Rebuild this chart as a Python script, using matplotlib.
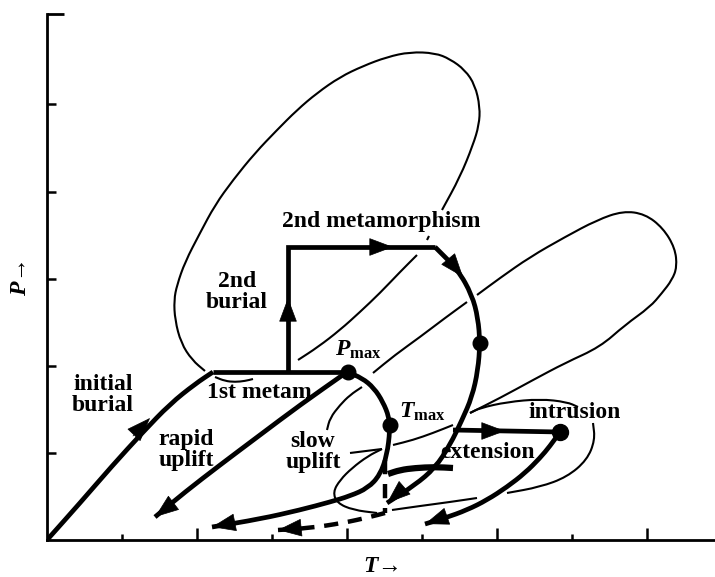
import numpy as np
import matplotlib
matplotlib.use("Agg")
import matplotlib.pyplot as plt
from matplotlib.path import Path
from matplotlib.patches import PathPatch

plt.rcParams['font.family'] = ['Liberation Serif', 'DejaVu Serif']
plt.rcParams['mathtext.fontset'] = 'custom'
plt.rcParams['mathtext.rm'] = 'Liberation Serif:bold'
plt.rcParams['mathtext.it'] = 'Liberation Serif:italic:bold'

# ---------------------------------------------------------------------------
# Schematic P-T paths, arbitrary units (T along x, P along y)
# ---------------------------------------------------------------------------
burial_path = [(0, 0), (33, 37), (65, 74), (96, 108), (123, 136), (148, 156),
               (166, 168)]
first_metam_path = [(166, 168), (300, 168)]
second_burial_path = [(241, 168), (241, 293), (388, 293)]
second_metam_path = [(388, 293), (411, 270), (425, 245), (431, 222), (433, 197),
                     (431, 170), (425, 143), (415, 120), (403, 95), (388, 72),
                     (368, 55), (340, 37)]
rapid_uplift_path = [(300, 168), (253, 135), (213, 105), (173, 75), (138, 48), (108, 23)]
slow_uplift_path = [(300, 168), (315, 162), (327, 152), (336, 138), (342, 123),
                    (343, 110), (340, 85), (333, 65), (321, 52), (303, 44),
                    (283, 38), (253, 30), (213, 21), (165, 13)]
dashed_drop = [(338, 80), (338, 27)]
dashed_path = [(338, 27), (323, 23), (296, 17), (263, 12), (231, 10)]
extension_path = [(406, 110), (513, 108)]
intrusion_path = [(513, 108), (503, 94), (493, 82), (478, 67), (460, 53),
                  (440, 40), (420, 30), (398, 22), (378, 16)]
extension_stroke = [(341, 66), (353, 70), (368, 72), (388, 73), (406, 72)]

# thin relaxation envelopes
envelope_1 = [(158, 169), (145, 180), (134, 197), (128, 220), (127, 240), (130, 255),
              (138, 278), (153, 307), (168, 335), (186, 360), (208, 387), (230, 410),
              (250, 430), (270, 447), (293, 463), (316, 474), (340, 483), (363, 488),
              (388, 487), (403, 481), (418, 470), (428, 455), (433, 433), (432, 415),
              (426, 395), (413, 363), (395, 330)]
envelope_1_tail = [(380, 300), (382, 304)]
envelope_1_inner = [(370, 285), (353, 268), (333, 247), (313, 228), (293, 210),
                    (271, 193), (251, 180)]
envelope_2a = [(280, 110), (283, 122), (293, 135), (303, 145), (315, 153)]
envelope_2b = [(326, 167), (348, 185), (373, 203), (398, 222), (420, 238)]
envelope_2c = [(430, 245), (453, 262), (483, 283), (518, 303), (550, 320), (576, 329),
               (598, 326), (616, 312), (628, 292), (630, 273), (625, 260), (615, 247),
               (603, 233), (578, 215), (553, 193), (518, 177), (486, 160), (453, 142),
               (423, 127)]
envelope_3a = [(303, 87), (335, 91)]
envelope_3b = [(335, 91), (321, 84), (305, 72), (293, 60), (286, 48),
               (290, 37), (306, 30), (330, 27)]
envelope_3c = [(345, 30), (373, 34), (403, 38), (430, 42)]
envelope_3d = [(460, 47), (493, 53), (520, 63), (540, 80), (548, 100), (546, 117)]
envelope_3top = [(346, 95), (366, 100), (386, 107), (406, 115)]
intrusion_arc = [(423, 127), (433, 132), (460, 138), (493, 141), (520, 138), (531, 133)]
first_metam_arc = [(168, 163), (178, 159), (188, 158), (198, 159), (206, 161)]

# key points
dots_T = [301, 343, 433]
dots_P = [168, 115, 197]
intrusion_dot = (513, 108)

# arrowheads: (tip, point behind tip)
arrow_heads = [((103, 122), (86, 104)),
               ((108, 23), (125, 36)),
               ((241, 242), (241, 222)),
               ((346, 293), (325, 293)),
               ((416, 263), (402, 280)),
               ((340, 37), (355, 50)),
               ((165, 13), (185, 17)),
               ((231, 10), (251, 12)),
               ((458, 109), (438, 109)),
               ((378, 16), (398, 23))]

# labels: (text, T, P)
labels = [("initial\nburial", 56, 145),
          ("2nd\nburial", 190, 248),
          ("1st metam", 212, 147),
          ("rapid\nuplift", 139, 90),
          ("slow\nuplift", 266, 88),
          ("2nd metamorphism", 334, 318),
          ("intrusion", 528, 127),
          ("extension", 441, 88)]

x_major = [150, 300, 450, 600]
x_minor = [75, 225, 375, 525]
y_ticks = [87, 174, 261, 348, 436]


def smooth_path(pts, smooth=True):
    pts = np.asarray(pts, dtype=float)
    if len(pts) < 3 or not smooth:
        return Path(pts)
    mids = (pts[:-1] + pts[1:]) / 2
    verts = [pts[0], mids[0]]
    codes = [Path.MOVETO, Path.LINETO]
    for i in range(1, len(pts) - 1):
        verts += [pts[i], mids[i]]
        codes += [Path.CURVE3, Path.CURVE3]
    verts.append(pts[-1])
    codes.append(Path.LINETO)
    return Path(verts, codes)


def draw(ax, pts, lw, smooth=True, **kw):
    patch = PathPatch(smooth_path(pts, smooth), fill=False, edgecolor="black", lw=lw,
                      joinstyle="miter", capstyle="butt", **kw)
    ax.add_patch(patch)


fig = plt.figure(figsize=(7.15, 5.77), dpi=100)
ax = fig.add_axes([47 / 715, 37 / 577, 668 / 715, 526 / 577])
ax.set_xlim(0, 668)
ax.set_ylim(0, 526)

for s in ["top", "right"]:
    ax.spines[s].set_visible(False)
for s in ["left", "bottom"]:
    ax.spines[s].set_linewidth(2.0)

ax.set_xticks(x_major)
ax.set_xticks(x_minor, minor=True)
ax.set_yticks(y_ticks)
ax.tick_params(axis="x", which="major", direction="in", length=9, width=1.8, labelbottom=False)
ax.tick_params(axis="x", which="minor", direction="in", length=4.5, width=1.8)
ax.tick_params(axis="y", direction="in", length=6.5, width=1.8, labelleft=False)
ax.plot([0, 17], [526, 526], color="black", lw=2.0, clip_on=False, solid_capstyle="butt")

# thin envelopes
for seg in [envelope_1, envelope_1_tail, envelope_1_inner, envelope_2a, envelope_2b,
            envelope_2c, envelope_3a, envelope_3b, envelope_3c, envelope_3d,
            envelope_3top, intrusion_arc, first_metam_arc]:
    draw(ax, seg, 1.5)

# thick paths
for seg in [burial_path, first_metam_path, second_metam_path,
            rapid_uplift_path, slow_uplift_path, extension_path, intrusion_path]:
    draw(ax, seg, 3.4)
draw(ax, second_burial_path, 3.4, smooth=False)
draw(ax, extension_stroke, 4.5)
draw(ax, dashed_drop, 3.2, linestyle=(0, (3.2, 2.2)))
draw(ax, dashed_path, 3.2, linestyle=(0, (3.2, 2.2)))

for tip, back in arrow_heads:
    ax.annotate("", xy=tip, xytext=back,
                arrowprops=dict(arrowstyle="-|>,head_length=0.8,head_width=0.3",
                                mutation_scale=20, color="black", lw=0.5,
                                shrinkA=0, shrinkB=0))

ax.plot(dots_T, dots_P, "o", color="black", ms=10.5, zorder=5)
ax.plot(*intrusion_dot, "o", color="black", ms=11.5, zorder=5)

for txt, t, p in labels:
    ax.text(t, p, txt, ha="center", va="center", fontsize=17, fontweight="bold",
            linespacing=1.05)

ax.text(288, 184, r"$P_{\mathrm{max}}$", fontsize=17, ha="left", va="baseline")
ax.text(352, 122, r"$T_{\mathrm{max}}$", fontsize=17, ha="left", va="baseline")

ax.text(334, -27, r"$T$→", fontsize=17, fontweight="bold", ha="center", va="center",
        clip_on=False)
ax.text(-27, 262, r"$P$→", fontsize=17, fontweight="bold", ha="center", va="center",
        rotation=90, clip_on=False)

fig.savefig("out.png", dpi=100)
